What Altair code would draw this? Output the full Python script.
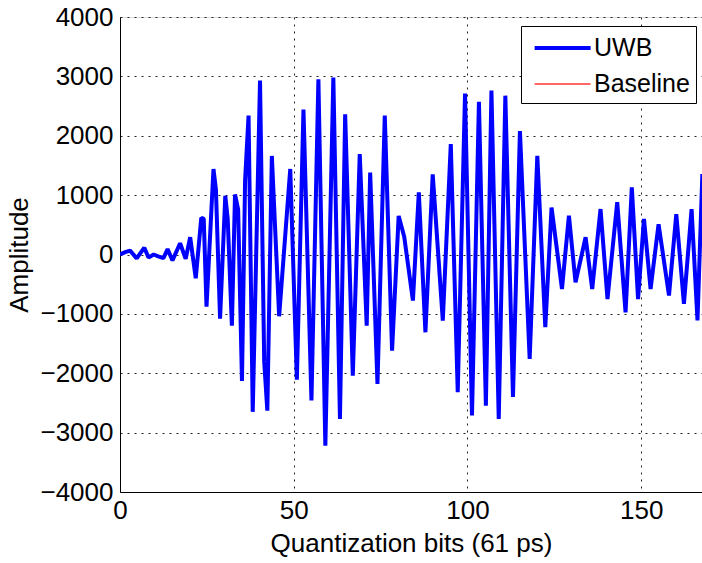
import altair as alt
import pandas as pd

# Waveform (local extrema of the UWB trace)
x_vals = [0.0, 1.5, 2.9, 4.8, 7.0, 8.2, 9.7, 11.0, 12.5, 13.7, 15.1, 17.3, 18.9, 20.2,
          21.8, 23.4, 24.1, 24.9, 26.9, 27.6, 28.8, 30.3, 31.0, 32.2, 33.1, 34.0, 35.1,
          36.0, 37.0, 38.2, 40.3, 41.5, 42.4, 43.7, 45.8, 49.0, 50.9, 52.8, 55.1, 57.1,
          59.1, 61.4, 63.3, 64.8, 67.0, 69.0, 71.0, 72.0, 74.1, 76.2, 78.3, 80.2, 81.8,
          84.3, 86.0, 87.9, 90.0, 92.9, 95.2, 97.2, 99.3, 101.3, 103.3, 105.3, 106.9,
          109.0, 110.9, 113.1, 115.1, 117.9, 120.1, 122.4, 124.2, 127.2, 129.2, 131.1,
          134.0, 135.9, 138.3, 140.3, 143.1, 145.5, 147.3, 149.1, 150.8, 152.7, 155.0,
          158.0, 160.1, 162.3, 164.5, 166.2, 167.6]
y_vals = [0, 40, 65, -65, 115, -50, 0, -30, -60, 90, -100, 190, -75, 290,
          -400, 620, 600, -880, 1440, 1100, -1080, 990, 600, -1200, 1010, 760, -2130,
          1250, 2340, -2650, 2930, -1800, -2630, 1660, -1040, 1440, -2110, 2440, -2460, 2950,
          -3220, 2980, -2770, 2360, -2040, 1690, -1200, 1380, -2180, 2340, -1620, 650, 300,
          -775, 1045, -1310, 1350, -1115, 1860, -2320, 2710, -2710, 2570, -2545, 2760,
          -2770, 2675, -2400, 2080, -1760, 1660, -1225, 790, -580, 655, -470,
          290, -580, 765, -750, 880, -975, 1130, -750, 600, -580, 510,
          -690, 680, -830, 765, -1110, 1355]

series_names = ["UWB", "Baseline"]
series_colors = ["#0000ff", "#ff3333"]
series_widths = [4, 1.5]
x_ticks = [0, 50, 100, 150]
y_ticks = [-4000, -3000, -2000, -1000, 0, 1000, 2000, 3000, 4000]

df = pd.DataFrame({"x": x_vals, "y": y_vals, "series": ["UWB"] * len(x_vals)})

FONT = "Liberation Sans"
FS = 26
LFS = 25

legend_cfg = dict(
    title=None, orient="none", legendX=401, legendY=9,
    symbolType="M-0.6,0L3.4,0", symbolSize=784, labelFontSize=LFS, labelFont=FONT,
    labelColor="black", labelOffset=35, padding=6, rowPadding=8,
    fillColor="white", strokeColor="black", cornerRadius=0,
)

chart = alt.Chart(df).mark_line(clip=True, strokeJoin="bevel").encode(
    x=alt.X("x:Q",
            scale=alt.Scale(domain=[0, 167.5], nice=False, zero=False),
            axis=alt.Axis(values=x_ticks, format="d", title="Quantization bits (61 ps)",
                          labelPadding=5, titlePadding=7, labelFlush=False)),
    y=alt.Y("y:Q",
            scale=alt.Scale(domain=[-4000, 4000], nice=False),
            axis=alt.Axis(values=y_ticks, format="d", title="Amplitude",
                          labelPadding=7, titlePadding=7, labelFlush=False)),
    color=alt.Color("series:N",
                    scale=alt.Scale(domain=series_names, range=series_colors),
                    legend=alt.Legend(**legend_cfg)),
    strokeWidth=alt.StrokeWidth("series:N",
                                scale=alt.Scale(domain=series_names, range=series_widths),
                                legend=alt.Legend(**legend_cfg)),
).properties(
    width=582, height=475,
    autosize=alt.AutoSizeParams(type="none"),
    padding={"left": 120, "top": 17, "right": 0, "bottom": 71},
).configure_view(
    stroke="black", strokeWidth=1, fill="white"
).configure(
    background="white"
).configure_axis(
    labelFont=FONT, titleFont=FONT, labelFontSize=FS, titleFontSize=FS,
    labelColor="black", titleColor="black", titleFontWeight="normal",
    domainColor="black", domainWidth=1, ticks=False,
    grid=True, gridColor="#222222", gridDash=[2, 5], gridWidth=1, gridOpacity=1,
)

chart.save("out.html", embed_options={"renderer": "svg", "actions": False})
